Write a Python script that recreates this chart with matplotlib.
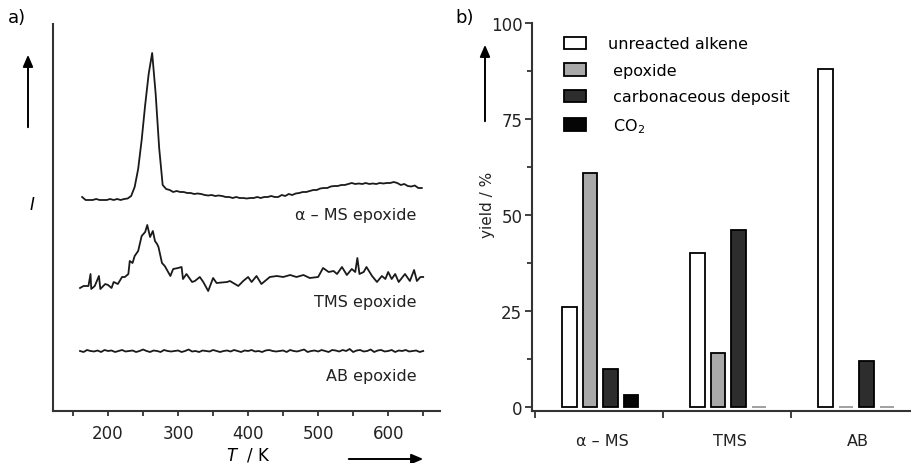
import matplotlib.pyplot as plt

# ---- panel a: TPD traces (intensity in arbitrary units, stacked) ----
ams_T = list(range(163, 649, 5))
ams_I = [214, 211, 211, 211, 212, 211, 211, 211, 212, 211,
         212, 211, 212, 212.5, 215, 224, 242, 271, 306, 337,
         358, 317, 263, 226, 222, 221, 219, 220, 219, 219,
         218, 218, 217, 217.5, 217, 216, 215.5, 216, 215, 215.5,
         215, 214, 214, 213, 214, 213, 213, 212.5, 213, 213,
         214, 213, 214, 214, 215, 214, 214, 216, 215, 217,
         216, 217.5, 218, 219, 219, 220, 221, 221, 222.5, 223,
         223, 224.5, 225, 225, 226, 226, 227, 228, 227, 227.5,
         227, 228, 227, 227.5, 227, 228, 227.5, 228, 228, 229,
         228, 226, 227, 225, 224.5, 225.5, 223, 223]

tms_T = [160, 165, 172, 175, 176, 181, 187, 189, 196, 200,
         205, 208, 214, 220, 224, 229, 231, 235, 238, 243,
         248, 253, 256, 260, 264, 267, 270, 272, 277, 281,
         289, 293, 300, 305, 307, 312, 320, 324, 331, 336,
         343, 350, 355, 370, 374, 386, 393, 400, 405, 412,
         419, 431, 441, 450, 460, 469, 479, 488, 500, 507,
         515, 522, 527, 534, 541, 548, 553, 556, 559, 565,
         569, 577, 584, 591, 596, 600, 605, 610, 615, 624,
         631, 637, 641, 646, 650]
tms_I = [123, 125, 125, 137, 122, 125, 135, 122, 127, 126,
         123, 129, 127, 134, 134, 137, 150, 148, 155, 160,
         175, 179, 186, 174, 180, 170, 167, 164, 148, 145,
         135, 142, 143, 144, 132, 137, 129, 130, 134, 129,
         120, 133, 128, 129, 130, 125, 130, 134, 129, 135,
         127, 134, 135, 134, 136, 134, 136, 133, 134, 143,
         139, 140, 137, 144, 136, 142, 139, 153, 137, 139,
         144, 135, 129, 135, 132, 139, 132, 137, 129, 137,
         130, 141, 130, 134, 134]

ab_T = list(range(160, 651, 5))
ab_I = [60, 59, 61, 60, 59.5, 60.5, 59, 61, 60, 60.5,
        59, 60, 61, 59.5, 60, 60.5, 59, 60, 61.5, 60,
        59, 60.5, 60, 59, 61, 60, 59.5, 60, 60.5, 59,
        60, 61.5, 59.5, 60, 59, 60.5, 60, 59.5, 61, 60,
        59, 60, 60.5, 59.5, 61, 60, 59, 60.5, 60, 61,
        59.5, 60, 59, 60.5, 61, 60, 59.5, 60, 60.5, 59,
        61, 60, 59.5, 60.5, 61.5, 59, 60, 60.5, 59.5, 61,
        60, 59, 61, 60.5, 59.5, 61, 60, 62, 59, 60.5,
        61, 59.5, 60, 61.5, 59, 60.5, 61, 59.5, 60, 61,
        59, 60.5, 60, 61, 59.5, 60, 60.5, 59, 60]

trace_labels = ["\u03b1 \u2013 MS epoxide", "TMS epoxide", "AB epoxide"]
label_levels = [196, 110, 35]

# ---- panel b: yields ----
groups = ["\u03b1 \u2013 MS", "TMS", "AB"]
products = ["unreacted alkene", " epoxide", " carbonaceous deposit", " CO$_2$"]
unreacted = [26, 40, 88]
epoxide = [61, 14, 0]
deposit = [10, 46, 12]
co2 = [3, 0, 0]
bar_colors = ["#ffffff", "#a9a9a9", "#2d2d2d", "#050505"]

plt.rcParams['font.family'] = 'DejaVu Sans'
axis_col = "#333333"

fig = plt.figure(figsize=(9.12, 4.64), dpi=100)

# panel a
ax1 = fig.add_axes([53 / 912, 52 / 464, 387 / 912, 387 / 464])
for T, I in [(ams_T, ams_I), (tms_T, tms_I), (ab_T, ab_I)]:
    ax1.plot(T, I, color="#1a1a1a", lw=1.3)
for lab, lev in zip(trace_labels, label_levels):
    ax1.text(640, lev, lab, ha="right", va="center", fontsize=11.5, color="#222222")
ax1.set_xlim(121.4, 674)
ax1.set_ylim(0, 387)
ax1.spines[["top", "right"]].set_visible(False)
for s in ["left", "bottom"]:
    ax1.spines[s].set_linewidth(1.5)
    ax1.spines[s].set_color(axis_col)
ax1.set_yticks([])
ax1.set_xticks([200, 300, 400, 500, 600])
ax1.set_xticks([150, 250, 350, 450, 550, 650], minor=True)
ax1.tick_params(axis="x", which="both", direction="out", length=3.5, width=1.3,
                color=axis_col, pad=6, labelsize=12, labelcolor="#222222")

# panel b
ax2 = fig.add_axes([532 / 912, 52 / 464, 380 / 912, 388 / 464])
series = [unreacted, epoxide, deposit, co2]
for j, (vals, col, lab) in enumerate(zip(series, bar_colors, products)):
    xs = [i + 0.27 + j * 0.16 for i in range(len(groups))]
    edges = ["black" if v > 0 else "#999999" for v in vals]
    ax2.bar(xs, vals, width=0.113, color=col, edgecolor=edges, linewidth=1.3,
            label=lab)
ax2.set_xlim(-0.023, 2.945)
ax2.set_ylim(-1.04, 100)
ax2.spines[["top", "right"]].set_visible(False)
for s in ["left", "bottom"]:
    ax2.spines[s].set_linewidth(1.5)
    ax2.spines[s].set_color(axis_col)
ax2.set_yticks([0, 25, 50, 75, 100])
ax2.set_yticks([12.5, 37.5, 62.5, 87.5], minor=True)
ax2.tick_params(axis="y", which="major", direction="out", length=5, width=1.3,
                color=axis_col, pad=2, labelsize=12, labelcolor="#222222")
ax2.tick_params(axis="y", which="minor", direction="out", length=3.5, width=1.3,
                color=axis_col)
ax2.set_xticks([0, 1, 2])
ax2.set_xticklabels(["", "", ""])
ax2.set_xticks([0.53, 1.52, 2.52], minor=True)
ax2.set_xticklabels(groups, minor=True)
ax2.tick_params(axis="x", which="major", direction="out", length=5, width=1.3,
                color=axis_col)
ax2.tick_params(axis="x", which="minor", length=0, pad=16, labelsize=11.5,
                labelcolor="#222222")

ax2.legend(loc="upper left", bbox_to_anchor=(0.06, 0.99), frameon=False,
           fontsize=11.5, handlelength=1.35, handleheight=0.8,
           handletextpad=1.4, labelspacing=0.72, borderaxespad=0.2)

# panel letters, axis labels and arrows
fig.text(8 / 912, 1 - 18 / 464, "a)", fontsize=13, va="center", ha="left")
fig.text(455 / 912, 1 - 18 / 464, "b)", fontsize=13, va="center", ha="left")
fig.text(32 / 912, 1 - 205 / 464, "$\\mathit{I}$", fontsize=12, va="center", ha="center")
fig.text(248 / 912, 1 - 456 / 464, "$\\mathit{T}$  / K", fontsize=12, va="center", ha="center")
fig.text(488 / 912, 1 - 205 / 464, "yield / %", fontsize=11, rotation=90,
         va="center", ha="center", color="#222222")

arrow = dict(arrowstyle="-|>,head_length=0.7,head_width=0.3", color="black", lw=1.4)
fig.add_artist(plt.Annotation("", xy=(28 / 912, 1 - 53 / 464), xytext=(28 / 912, 1 - 131 / 464),
                              xycoords="figure fraction", arrowprops=arrow))
fig.add_artist(plt.Annotation("", xy=(485 / 912, 1 - 43 / 464), xytext=(485 / 912, 1 - 125 / 464),
                              xycoords="figure fraction", arrowprops=arrow))
fig.add_artist(plt.Annotation("", xy=(426 / 912, 1 - 460 / 464), xytext=(346 / 912, 1 - 460 / 464),
                              xycoords="figure fraction", arrowprops=arrow))

fig.savefig("out.png", dpi=100)
